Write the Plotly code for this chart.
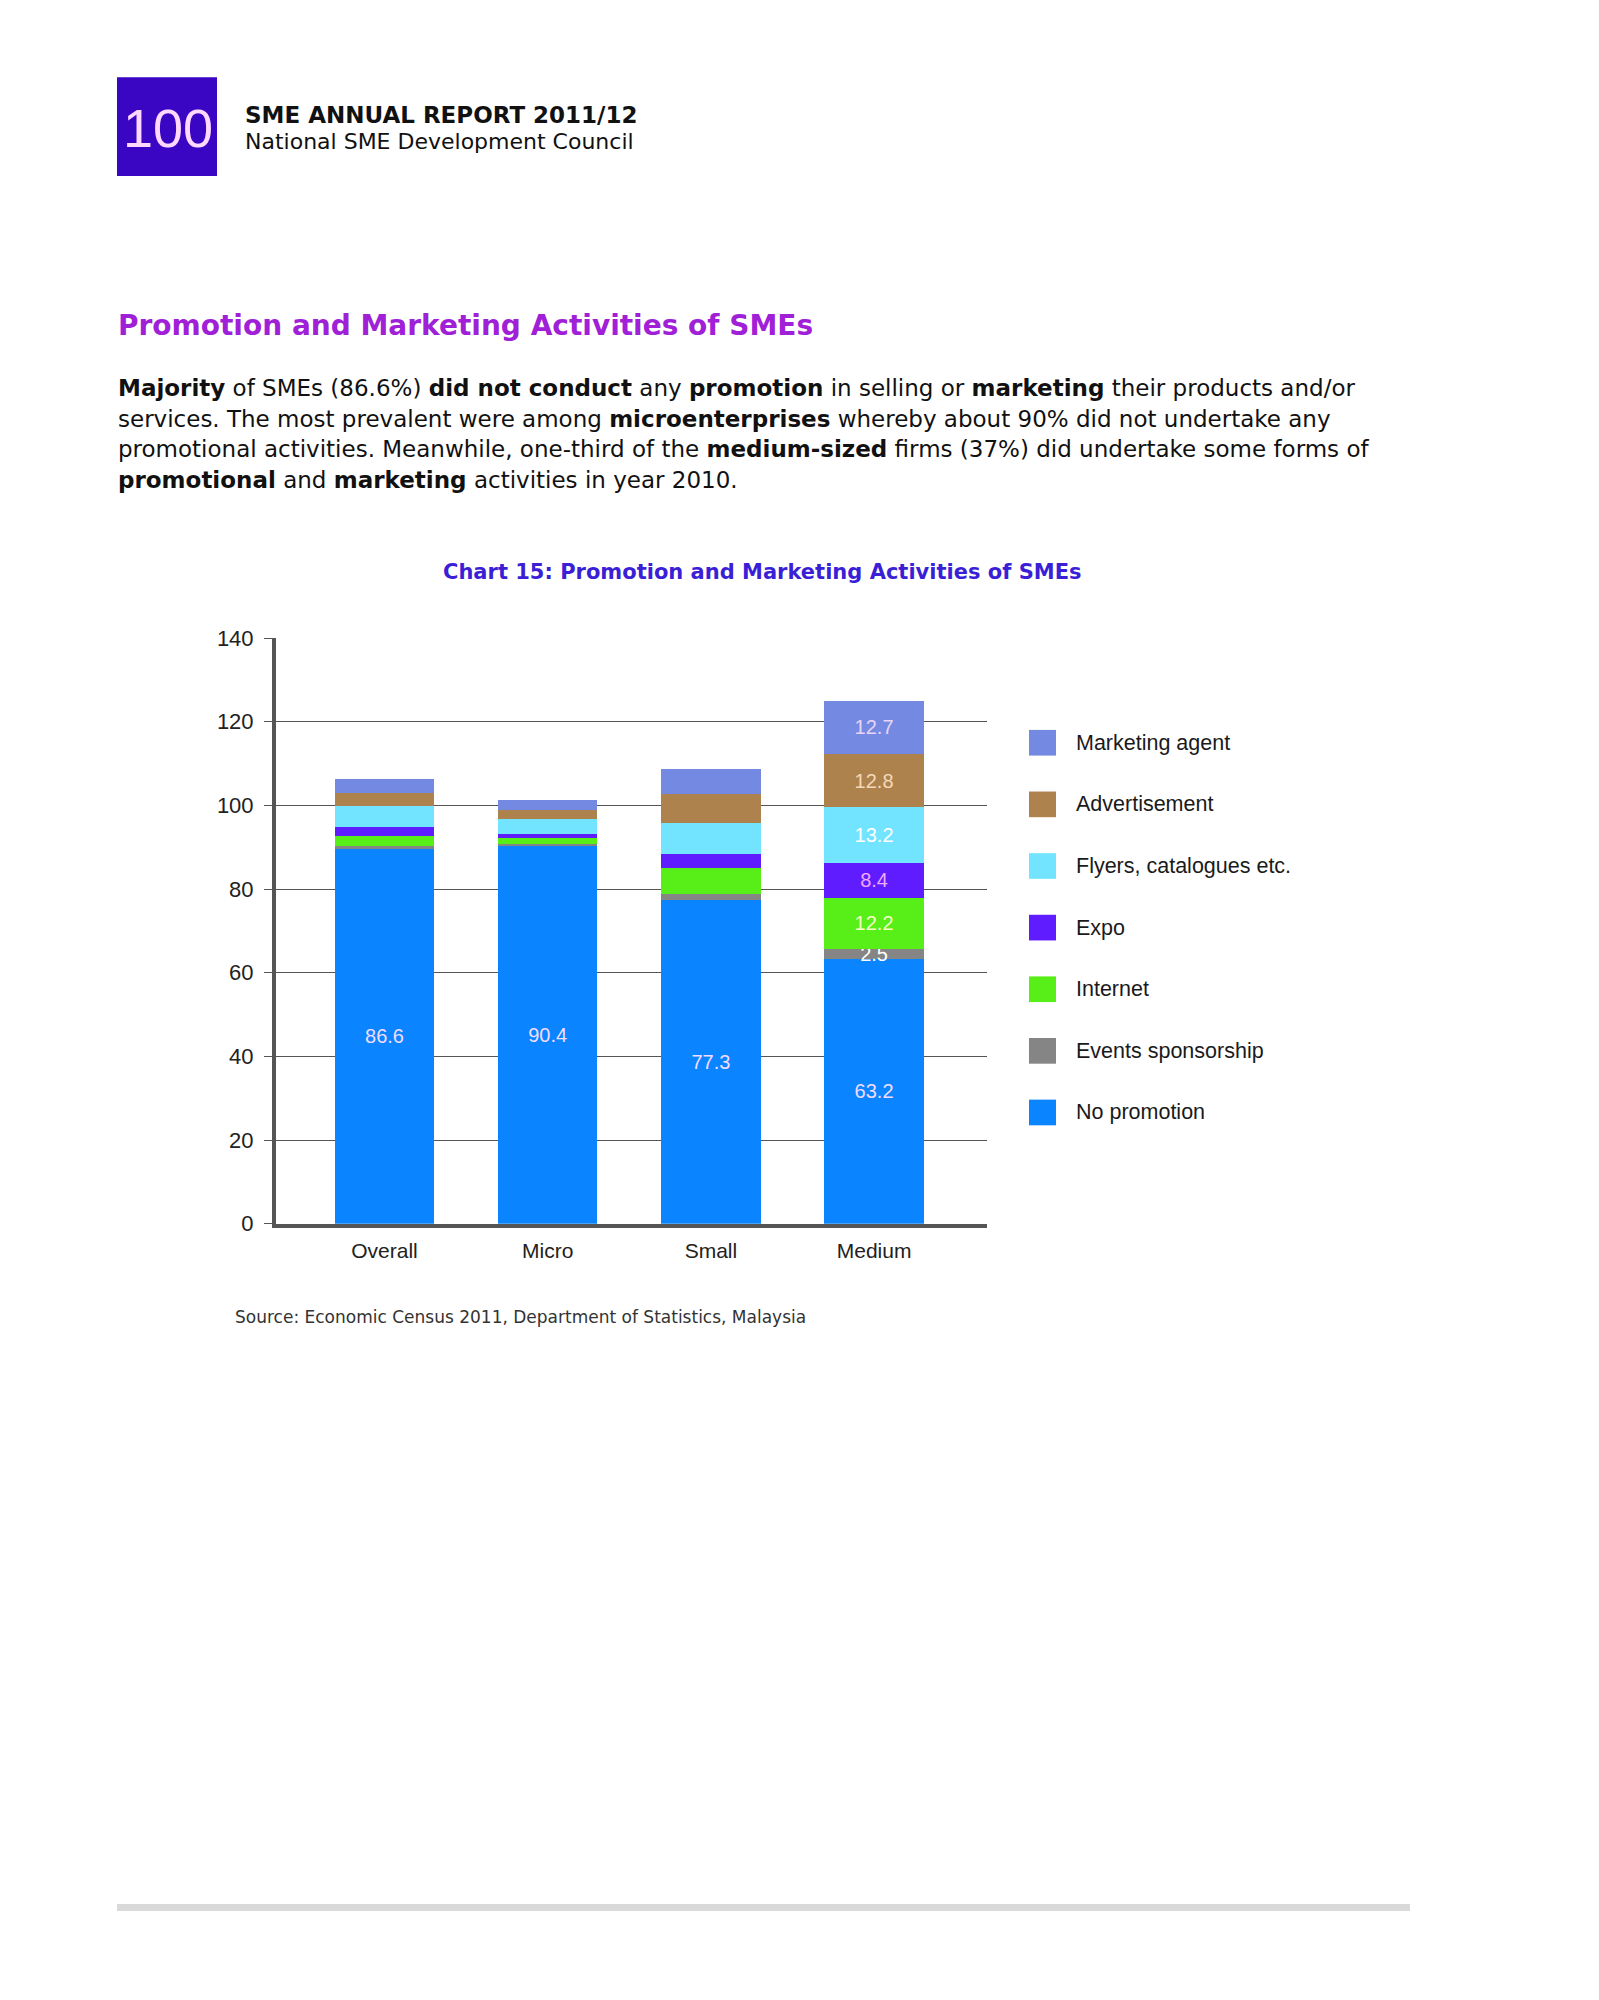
import plotly.graph_objects as go

W, H = 1599, 2000

# ---------------- data ----------------
categories = ["Overall", "Micro", "Small", "Medium"]
no_promotion = [89.5, 90.4, 77.3, 63.2]
events_sponsorship = [0.8, 0.4, 1.4, 2.5]
internet = [2.5, 1.5, 6.4, 12.2]
expo = [2.1, 0.8, 3.2, 8.4]
flyers = [4.9, 3.7, 7.6, 13.2]
advertisement = [3.1, 2.0, 6.9, 12.8]
marketing_agent = [3.3, 2.4, 5.8, 12.7]

no_promotion_labels = ["86.6", "90.4", "77.3", "63.2"]
labelled_bar = [False, False, False, True]   # only Medium segments carry value labels
y_ticks = [0, 20, 40, 60, 80, 100, 120, 140]

series = [
    ("No promotion", no_promotion, "#0a84ff", "#f2dcff"),
    ("Events sponsorship", events_sponsorship, "#858585", "#ffffff"),
    ("Internet", internet, "#58ee18", "#f4ffc4"),
    ("Expo", expo, "#5e1cff", "#f2a8ff"),
    ("Flyers, catalogues etc.", flyers, "#72e4ff", "#ffffff"),
    ("Advertisement", advertisement, "#ae824c", "#f4d8b8"),
    ("Marketing agent", marketing_agent, "#7389e2", "#e8d4f6"),
]

CHART_FONT = "Liberation Sans"
PAGE_FONT = "DejaVu Sans"


def px(x):
    return x / W


def py(y):
    return 1 - y / H


fig = go.Figure()
for name, vals, color, tcolor in series:
    if name == "No promotion":
        txt = no_promotion_labels
    else:
        txt = [f"{v}" if lab else "" for v, lab in zip(vals, labelled_bar)]
    fig.add_trace(go.Bar(
        x=categories, y=vals, name=name,
        marker=dict(color=color, line=dict(width=0)),
        width=0.61,
        text=txt, textposition="inside", insidetextanchor="middle",
        constraintext="none",
        textfont=dict(family=CHART_FONT, size=20, color=tcolor),
        showlegend=False,
    ))

shapes = []
annotations = []

# header block
shapes.append(dict(type="rect", xref="paper", yref="paper",
                   x0=px(117), x1=px(217), y0=py(166), y1=py(66),
                   fillcolor="#3a06c4", line=dict(width=0)))
annotations.append(dict(text="100", xref="paper", yref="paper", x=px(168), y=py(117),
                        xanchor="center", yanchor="middle", showarrow=False,
                        font=dict(family=CHART_FONT, size=54, color="#ffd8ff")))
annotations.append(dict(text="SME ANNUAL REPORT 2011/12", xref="paper", yref="paper",
                        x=px(243), y=py(104), xanchor="left", yanchor="middle", showarrow=False,
                        font=dict(family=PAGE_FONT, size=23, color="#111111", weight="bold")))
annotations.append(dict(text="National SME Development Council", xref="paper", yref="paper",
                        x=px(243), y=py(131), xanchor="left", yanchor="middle", showarrow=False,
                        font=dict(family=PAGE_FONT, size=22, color="#111111")))

# section heading
annotations.append(dict(text="Promotion and Marketing Activities of SMEs", xref="paper", yref="paper",
                        x=px(116), y=py(317), xanchor="left", yanchor="middle", showarrow=False,
                        font=dict(family=PAGE_FONT, size=28, color="#a020d8", weight="bold")))

# paragraph
para = [
    "<b>Majority</b> of SMEs (86.6%) <b>did not conduct</b> any <b>promotion</b> in selling or <b>marketing</b> their products and/or",
    "services. The most prevalent were among <b>microenterprises</b> whereby about 90% did not undertake any",
    "promotional activities. Meanwhile, one-third of the <b>medium-sized</b> firms (37%) did undertake some forms of",
    "<b>promotional</b> and <b>marketing</b> activities in year 2010.",
]
for i, line in enumerate(para):
    annotations.append(dict(text=line, xref="paper", yref="paper",
                            x=px(116), y=py(381 + i * 31), xanchor="left", yanchor="middle",
                            showarrow=False,
                            font=dict(family=PAGE_FONT, size=23, color="#111111")))

# chart title
annotations.append(dict(text="Chart 15: Promotion and Marketing Activities of SMEs", xref="paper", yref="paper",
                        x=px(762), y=py(567), xanchor="center", yanchor="middle", showarrow=False,
                        font=dict(family=PAGE_FONT, size=21, color="#3a1fd6", weight="bold")))

# manual legend (top to bottom)
for i, (name, vals, color, tcolor) in enumerate(reversed(series)):
    cy = 740 + i * 62.4
    shapes.append(dict(type="rect", xref="paper", yref="paper",
                       x0=px(1029), x1=px(1056), y0=py(cy + 13), y1=py(cy - 13),
                       fillcolor=color, line=dict(width=0)))
    annotations.append(dict(text=name, xref="paper", yref="paper",
                            x=px(1074), y=py(cy), xanchor="left", yanchor="middle", showarrow=False,
                            font=dict(family=CHART_FONT, size=21.5, color="#1a1a1a")))

# source
annotations.append(dict(text="Source: Economic Census 2011, Department of Statistics, Malaysia",
                        xref="paper", yref="paper", x=px(233), y=py(1322),
                        xanchor="left", yanchor="middle", showarrow=False,
                        font=dict(family=PAGE_FONT, size=17, color="#333333")))

# footer rule
shapes.append(dict(type="rect", xref="paper", yref="paper",
                   x0=px(117), x1=px(1410), y0=py(1923), y1=py(1916),
                   fillcolor="#d9d9d9", line=dict(width=0)))

fig.update_layout(
    width=W, height=H,
    margin=dict(l=0, r=0, t=0, b=0),
    paper_bgcolor="white", plot_bgcolor="white",
    barmode="stack",
    shapes=shapes, annotations=annotations,
    showlegend=False,
    xaxis=dict(domain=[px(276), px(987)], type="category", range=[-0.665, 3.692],
               showline=True, linewidth=4, linecolor="#555555", showgrid=False,
               ticks="", ticklabelstandoff=5,
               tickfont=dict(family=CHART_FONT, size=21, color="#222222")),
    yaxis=dict(domain=[py(1227), py(634)], range=[0, 140], tickvals=y_ticks,
               showgrid=True, gridcolor="#555555", gridwidth=1, zeroline=False,
               showline=True, linewidth=4, linecolor="#555555",
               ticks="outside", ticklen=8, tickwidth=1, tickcolor="#555555",
               ticklabelstandoff=6,
               tickfont=dict(family=CHART_FONT, size=22, color="#222222")),
)

fig.write_html("out.html", config={"displayModeBar": False},
               post_script="document.body.style.margin='0';")
